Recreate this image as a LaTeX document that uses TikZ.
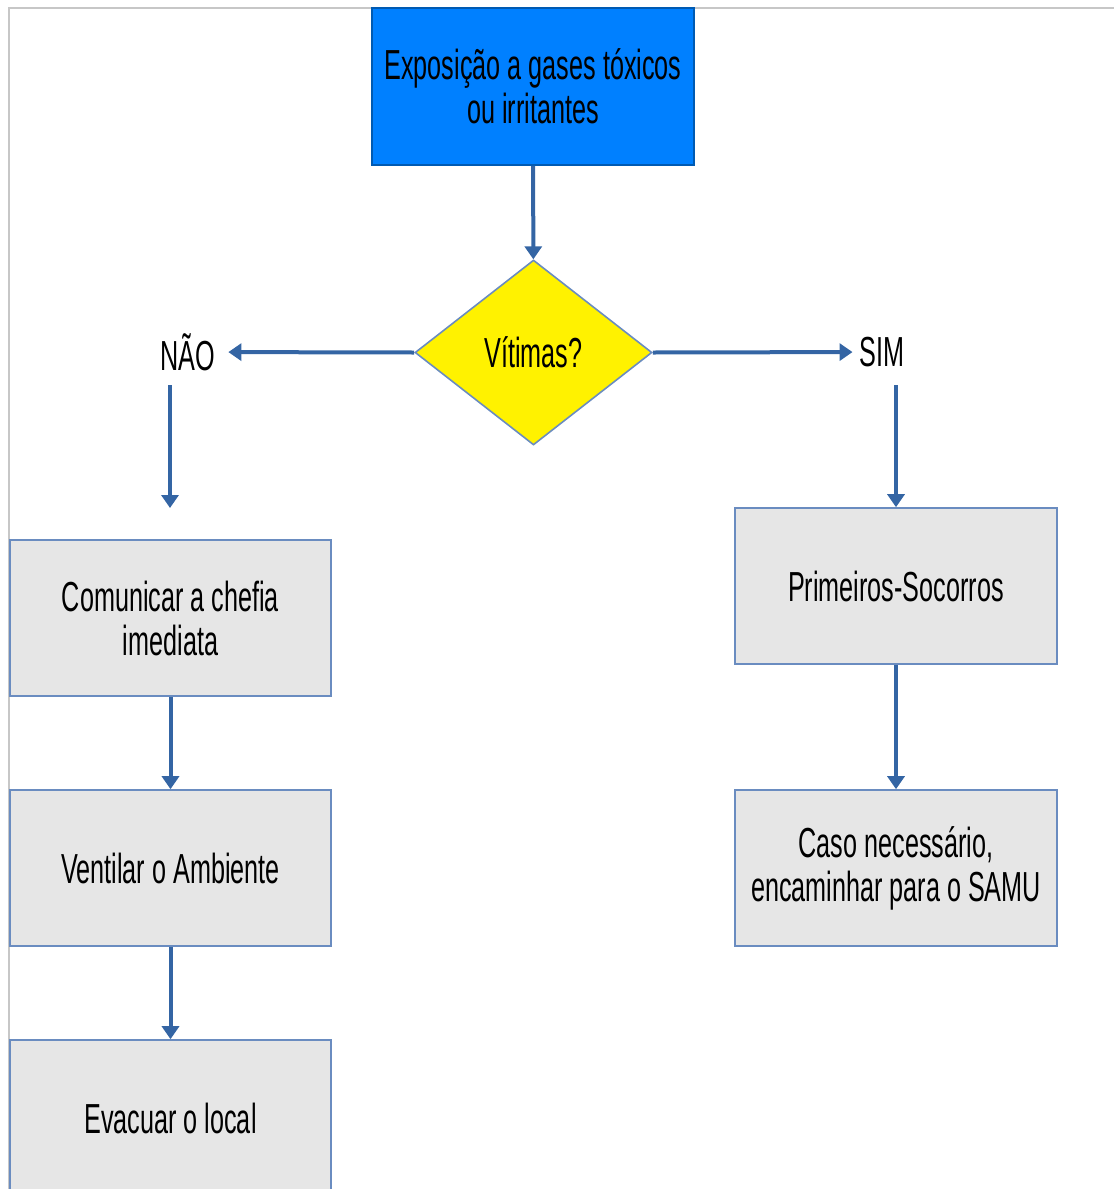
\documentclass[tikz,border=0pt]{standalone}
\usepackage{fontspec}
\setmainfont{Liberation Sans}[FakeStretch=0.6]
\usetikzlibrary{arrows.meta,shapes.geometric}
\definecolor{fluxoazul}{HTML}{3465A4}
\definecolor{bordaazul}{HTML}{6A8CC0}
\definecolor{caixacinza}{HTML}{E6E6E6}
\definecolor{caixaazul}{HTML}{0080FF}

\begin{document}
\begin{tikzpicture}[x=0.5pt,y=-0.5pt,
    font=\fontsize{21}{22}\selectfont,
    caixa/.style={draw=bordaazul, line width=0.8pt, fill=caixacinza,
      minimum width=160.5pt, minimum height=78pt, inner sep=0pt, align=center},
    seta/.style={draw=fluxoazul, line width=2pt,
      -{Triangle[length=6.5pt,width=8.5pt]}}]
  \useasboundingbox (0,0) rectangle (1114,1189);
  \clip (0,0) rectangle (1114,1189);
  % moldura da pagina
  \draw[black!22, line width=1pt] (9,1189) -- (9,8) -- (1114,8);
    \node (expo) at (533,86.5) [caixa, fill=caixaazul, draw=caixaazul!70!black,
      minimum width=161pt, minimum height=78.5pt]
    {Exposição a gases tóxicos\\ou irritantes}; \node (vit) at (533.5,352.5)
    [diamond, draw=bordaazul, line width=0.8pt, fill=yellow,
      minimum width=118.5pt, minimum height=92.5pt, inner sep=0pt]
    {Vítimas?}; \node (nao) at (188,352)
    {NÃO}; \node (sim) at (882,352)
    {SIM};
    % ramo esquerdo
    \node (chefia) at (170.5,618) [caixa]
    {Comunicar a chefia\\imediata}; \node (ventilar) at (170.5,868) [caixa]
    {Ventilar o Ambiente}; \node (evacuar) at (170.5,1118) [caixa]
    {Evacuar o local};
    % ramo direito
    \node (socorro) at (896,586) [caixa, minimum width=161pt]
    {Primeiros-Socorros}; \node (samu) at (896,868) [caixa, minimum width=161pt]
    {Caso necessário,\\encaminhar para o SAMU};
    \coordinate (naoA) at (170,385); \coordinate (naoB) at (170,508);
    \coordinate (simA) at (896,385);
    \draw[seta] (expo) -- (vit); \draw[seta, shorten >=3pt] (vit.west) -- (nao);
    \draw[seta] (vit.east) -- (sim); \draw[seta] (naoA) -- (naoB);
    \draw[seta] (simA) -- (socorro); \draw[seta] (chefia) -- (ventilar);
    \draw[seta] (ventilar) -- (evacuar); \draw[seta] (socorro) -- (samu);
  \end{tikzpicture}
\end{document}
